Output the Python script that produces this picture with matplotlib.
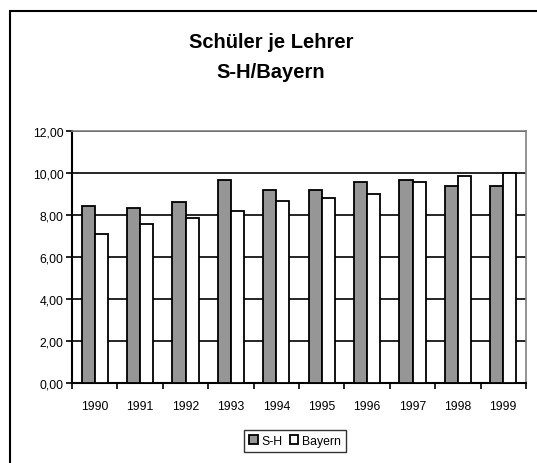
import numpy as np
import matplotlib.pyplot as plt
from matplotlib.patches import Rectangle
from matplotlib.ticker import FuncFormatter, MultipleLocator

plt.rcParams['font.family'] = ['Liberation Sans', 'DejaVu Sans']

# data
years = ['1990', '1991', '1992', '1993', '1994', '1995', '1996', '1997', '1998', '1999']
sh = [8.44, 8.33, 8.63, 9.68, 9.20, 9.20, 9.59, 9.68, 9.40, 9.40]
bayern = [7.10, 7.59, 7.87, 8.17, 8.65, 8.83, 9.02, 9.59, 9.87, 9.98]

W, H = 537, 464
fig = plt.figure(figsize=(W / 100, H / 100), dpi=100)
fig.patch.set_facecolor('white')

# outer chart frame
fig.add_artist(Rectangle((10 / W, -0.05), 1.2, (H - 12) / H + 0.05, transform=fig.transFigure,
                         fill=False, edgecolor='black', linewidth=1.5))

ax = fig.add_axes([72 / W, 1 - 384 / H, (526 - 72) / W, (384 - 132) / H])

x = np.arange(len(years))
bw = 0.29
ax.bar(x - bw / 2, sh, bw, color='#969696', edgecolor='black', linewidth=1.3, label='S-H', zorder=3)
ax.bar(x + bw / 2, bayern, bw, color='white', edgecolor='black', linewidth=1.3, label='Bayern', zorder=3)

ax.set_xlim(-0.5, len(years) - 0.5)
ax.set_ylim(0, 12)
ax.yaxis.set_major_locator(MultipleLocator(2))
ax.yaxis.set_major_formatter(FuncFormatter(lambda v, p: f'{v:.2f}'.replace('.', ',')))
ax.grid(axis='y', color='black', linewidth=1.2, zorder=0)

# x ticks between categories, labels centered
ax.set_xticks(np.arange(-0.5, len(years), 1))
ax.set_xticklabels([])
ax.set_xticks(x, minor=True)
ax.set_xticklabels(years, minor=True)
ax.tick_params(axis='x', which='minor', length=0, labelsize=8.8, pad=12)
ax.tick_params(axis='x', which='major', length=4, width=1.2, direction='out')
ax.tick_params(axis='y', length=4, width=1.2, labelsize=8.8, pad=2)

for s in ['top', 'right']:
    ax.spines[s].set_color('#808080')
    ax.spines[s].set_linewidth(1.2)
for s in ['left', 'bottom']:
    ax.spines[s].set_linewidth(1.5)

fig.text(271 / W, 1 - 42 / H, 'Schüler je Lehrer', ha='center', va='center',
         fontsize=14.5, fontweight='bold')
fig.text(271 / W, 1 - 73 / H, 'S-H/Bayern', ha='center', va='center',
         fontsize=14.5, fontweight='bold')

leg = fig.legend(loc='center', bbox_to_anchor=(295 / W, 1 - 442 / H), ncol=2, fontsize=8.8,
                 frameon=True, fancybox=False, edgecolor='black', handlelength=0.7,
                 handleheight=0.7, handletextpad=0.3, columnspacing=0.6, borderpad=0.4)
leg.get_frame().set_linewidth(1.0)

fig.savefig('out.png', dpi=100)
